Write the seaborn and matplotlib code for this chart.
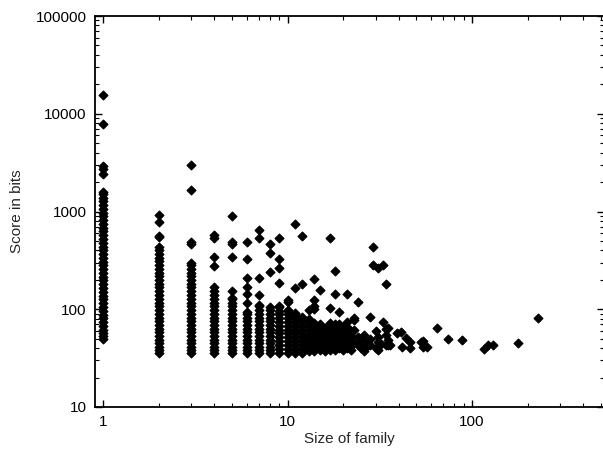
import matplotlib
matplotlib.use("Agg")
import numpy as np
import pandas as pd
import matplotlib.pyplot as plt
import seaborn as sns
from matplotlib.ticker import FixedLocator, LogLocator, NullFormatter, FixedFormatter

# scores, one list per family size.
# the tall columns are solid in the original, so they are listed at about one marker spacing
scores_1 = [50, 53, 57, 62, 68, 74, 81, 88, 96, 105, 115, 126, 138, 151, 165, 180, 197, 215,
            235, 257, 281, 307, 336, 367, 401, 438, 479, 523, 572, 625, 683, 746, 815, 891,
            974, 1064, 1163, 1271, 1389, 1520, 1600, 2400, 2750, 2950, 7900, 15500]
scores_2 = [36, 38, 41, 45, 49, 53, 58, 63, 69, 75, 82, 90, 98, 107, 117, 128, 140, 153, 167,
            182, 199, 217, 237, 259, 283, 309, 338, 369, 403, 435, 545, 565, 790, 930]
scores_3 = [36, 38, 41, 45, 49, 53, 58, 63, 69, 75, 82, 90, 98, 107, 117, 128, 140, 153, 167,
            182, 199, 217, 237, 259, 283, 300, 470, 490, 1640, 3020]
scores_4 = [36, 38, 41, 45, 49, 53, 58, 63, 69, 75, 82, 90, 98, 107, 117, 128, 140, 153, 168,
            280, 345, 540, 570]
scores_5 = [36, 38, 41, 45, 49, 53, 58, 63, 69, 75, 82, 90, 98, 107, 117, 128, 131, 155, 340,
            470, 490, 910]
scores_6 = [36, 38, 41, 45, 49, 53, 58, 63, 69, 75, 82, 90, 94, 116, 144, 170, 210, 330, 490]
scores_7 = [36, 38, 41, 45, 49, 53, 58, 63, 69, 75, 82, 90, 98, 107, 110, 140, 210, 540, 640]
scores_8 = [36, 38, 41, 45, 49, 53, 58, 63, 69, 75, 82, 90, 98, 106, 240, 380, 470]
scores_9 = [36, 39, 43, 47, 52, 57, 62, 68, 74, 81, 89, 97, 106, 108, 187, 265, 330, 530]
scores_10 = [36, 39, 43, 47, 52, 57, 62, 68, 74, 81, 89, 96, 99, 118, 124]
scores_11 = [36, 39, 43, 47, 52, 57, 62, 68, 74, 81, 88, 92, 165, 750]
scores_12 = [36, 39, 43, 47, 52, 57, 62, 68, 74, 80, 84, 183, 555]

# larger families, point by point
sparse_size = [13, 13, 13, 13, 13, 13, 13, 13, 13, 13,
               14, 14, 14, 14, 14, 14, 14, 14, 14, 14, 14, 14,
               15, 15, 15, 15, 15, 15, 15, 15,
               16, 16, 16, 16, 16, 16, 16,
               17, 17, 17, 17, 17, 17, 17, 17, 17,
               18, 18, 18, 18, 18, 18, 18, 18, 18,
               19, 19, 19, 19, 19, 19, 19,
               20, 20, 20, 20, 20, 20,
               21, 21, 21, 21, 21, 21, 21,
               22, 22, 22, 22, 22,
               23, 23, 23, 23, 24, 24, 24, 25, 25, 26, 26, 26, 27,
               28, 28, 28, 29, 29, 30, 30, 31, 31, 31, 31, 32, 33, 33,
               34, 34, 34, 34, 35, 35, 35, 36, 39, 41, 42, 44, 46, 46,
               53, 54, 54, 57, 65, 74, 88, 116, 122, 130, 178, 228]
sparse_score = [37, 41, 45, 50, 55, 61, 67, 74, 80, 99,
                37, 40, 44, 49, 54, 60, 66, 73, 101, 108, 125, 206,
                38, 42, 46, 51, 57, 63, 70, 158,
                37, 41, 45, 50, 55, 60, 65,
                38, 42, 47, 52, 58, 65, 73, 104, 540,
                38, 42, 46, 51, 57, 63, 70, 144, 248,
                40, 44, 49, 55, 61, 70, 94,
                38, 42, 47, 53, 60, 66,
                40, 45, 51, 58, 66, 74, 144,
                38, 42, 47, 53, 60,
                45, 62, 78, 82, 43, 52, 120, 40, 48, 37, 46, 55, 42,
                43, 50, 84, 286, 435, 40, 60, 38.5, 46, 52, 265, 44, 74, 286,
                43, 55, 63, 183, 43, 49, 64, 43, 57.5, 59, 41, 51, 40, 46,
                46, 41, 47, 41.5, 64.5, 50, 49, 39.5, 43, 43, 45, 81]

columns = {1: scores_1, 2: scores_2, 3: scores_3, 4: scores_4, 5: scores_5, 6: scores_6,
           7: scores_7, 8: scores_8, 9: scores_9, 10: scores_10, 11: scores_11, 12: scores_12}

sizes, scores = [], []
for size, vals in columns.items():
    sizes += [size] * len(vals)
    scores += vals
sizes += sparse_size
scores += sparse_score
df = pd.DataFrame({'size': sizes, 'score': scores})

sns.set_style('ticks')
plt.rcParams['font.family'] = ['Liberation Sans', 'DejaVu Sans']

fig = plt.figure(figsize=(6.03, 4.49), dpi=100)
ax = fig.add_axes([95 / 603, 42 / 449, 508.5 / 603, 391 / 449])

sns.scatterplot(data=df, x='size', y='score', ax=ax, color='black', marker='D',
                s=19, edgecolor='black', linewidth=1.0, legend=False)

ax.set_xscale('log')
ax.set_yscale('log')
ax.set_xlim(0.905, 516)
ax.set_ylim(10, 100000)

ax.xaxis.set_major_locator(FixedLocator([1, 10, 100]))
ax.xaxis.set_major_formatter(FixedFormatter(['1', '10', '100']))
ax.yaxis.set_major_locator(FixedLocator([10, 100, 1000, 10000, 100000]))
ax.yaxis.set_major_formatter(FixedFormatter(['10', '100', '1000', '10000', '100000']))
for axis in (ax.xaxis, ax.yaxis):
    axis.set_minor_locator(LogLocator(base=10, subs=np.arange(2, 10), numticks=20))
    axis.set_minor_formatter(NullFormatter())

ax.tick_params(which='both', direction='in', top=True, right=True, color='black',
               labelsize=11, labelcolor='black', pad=6)
ax.tick_params(which='major', length=5, width=1.0)
ax.tick_params(which='minor', length=3, width=0.8)
for sp in ax.spines.values():
    sp.set_linewidth(1.3)
    sp.set_color('black')
ax.spines['right'].set_visible(False)

ax.set_xlabel('Size of family', fontsize=11)
ax.set_ylabel('Score in bits', fontsize=11)
ax.xaxis.set_label_coords(0.5, -0.082)
ax.yaxis.set_label_coords(-0.153, 0.5)
ax.xaxis.label.set_va('center')
ax.yaxis.label.set_va('center')

fig.savefig('out.png', dpi=100)
